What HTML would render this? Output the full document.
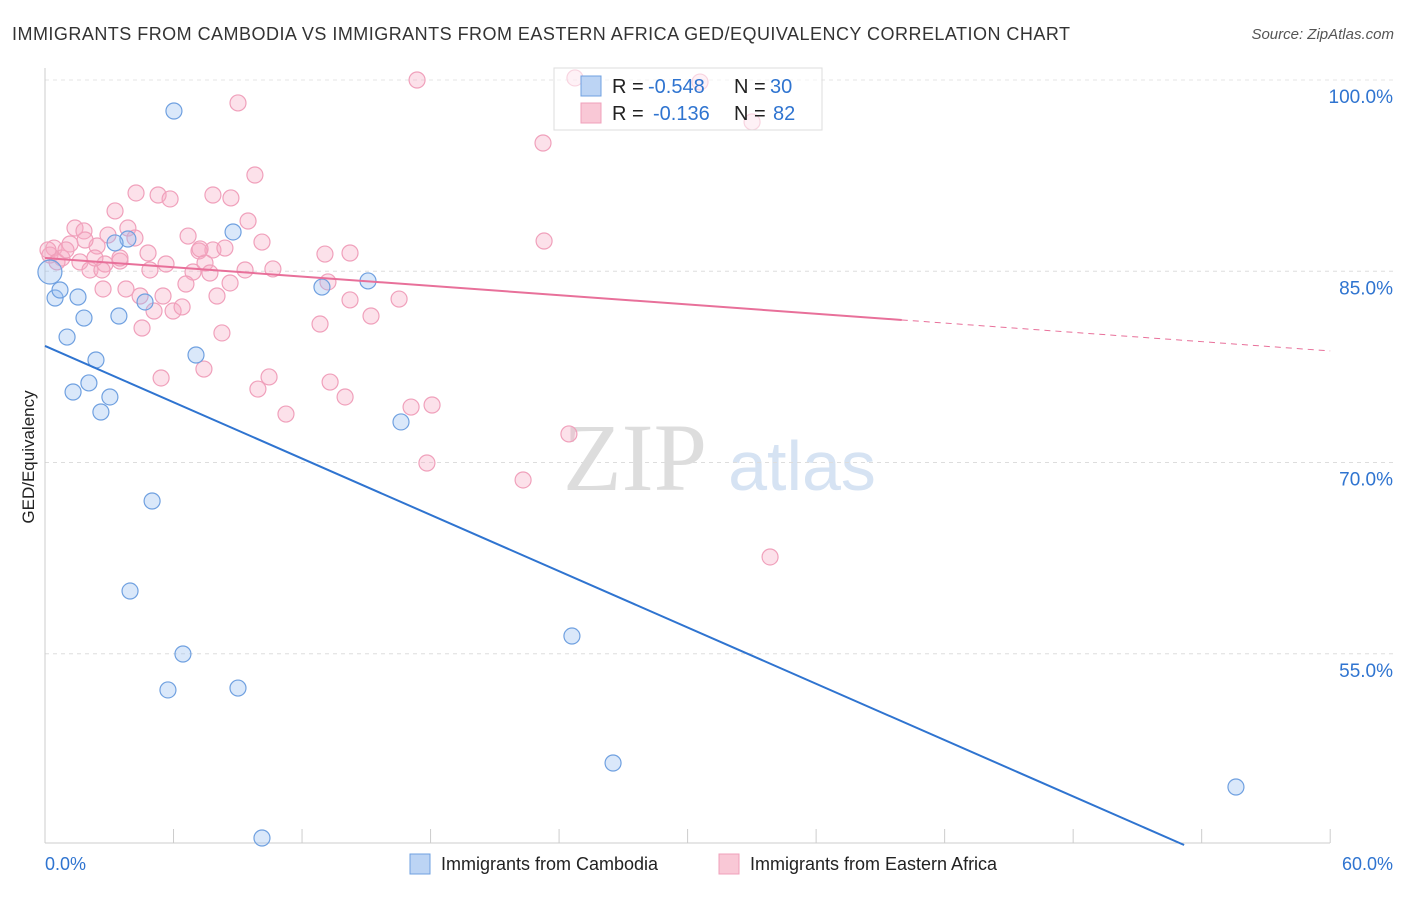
<!DOCTYPE html>
<html><head><meta charset="utf-8"><style>
body{margin:0;background:#fff;font-family:"Liberation Sans",sans-serif}
</style></head><body>
<svg width="1406" height="892" xmlns="http://www.w3.org/2000/svg" id="svg">
<text x="12" y="40" font-size="18" fill="#333" textLength="1058">IMMIGRANTS FROM CAMBODIA VS IMMIGRANTS FROM EASTERN AFRICA GED/EQUIVALENCY CORRELATION CHART</text>
<text x="1394" y="39" font-size="15" fill="#555" font-style="italic" text-anchor="end">Source: ZipAtlas.com</text>
<text x="635" y="490" font-size="96" fill="#ddd" font-family="Liberation Serif" text-anchor="middle">ZIP</text>
<text x="802" y="490" font-size="70" fill="#d6e3f3" text-anchor="middle">atlas</text>
<text transform="translate(34,457) rotate(-90)" font-size="17" fill="#222" text-anchor="middle">GED/Equivalency</text>
<g id="grid"></g><g id="pts"></g><g id="lines"></g>
<rect x="554" y="68" width="268" height="62" fill="rgba(255,255,255,0.55)" stroke="#ddd"/>
<rect x="581" y="76" width="20" height="20" fill="#bcd4f4" stroke="#6fa0e0"/>
<rect x="581" y="103" width="20" height="20" fill="#f9c8d6" stroke="#f0a0bb"/>
<g font-size="20">
<text x="612" y="93" fill="#222">R =</text><text x="648" y="93" fill="#2f74d0">-0.548</text>
<text x="734" y="93" fill="#222">N =</text><text x="770" y="93" fill="#2f74d0">30</text></g>
<g font-size="20">
<text x="612" y="120" fill="#222">R =</text><text x="653" y="120" fill="#2f74d0">-0.136</text>
<text x="734" y="120" fill="#222">N =</text><text x="773" y="120" fill="#2f74d0">82</text></g>
<text x="45" y="870" font-size="18" fill="#2f74d0">0.0%</text>
<text x="1393" y="870" font-size="18" fill="#2f74d0" text-anchor="end">60.0%</text>
<rect x="410" y="854" width="20" height="20" fill="#bcd4f4" stroke="#6fa0e0"/>
<text x="441" y="870" font-size="18" fill="#222">Immigrants from Cambodia</text>
<rect x="719" y="854" width="20" height="20" fill="#f9c8d6" stroke="#f0a0bb"/>
<text x="750" y="870" font-size="18" fill="#222">Immigrants from Eastern Africa</text>
</svg>
<script>
const yTicks=[100,85,70,55];
const yTickLabels=["100.0%","85.0%","70.0%","55.0%"];
const blueX=[6.02,8.78,3.87,3.27,15.08,12.93,0.47,1.54,0.70,1.82,3.45,4.67,1.03,2.38,7.05,1.31,2.05,3.03,2.61,16.62,5.0,3.97,24.6,6.44,5.74,9.01,26.52,55.6,10.13,0.23];
const blueY=[97.57,88.08,87.53,87.22,84.24,83.76,82.9,82.98,83.53,81.33,81.49,82.59,79.84,78.04,78.43,75.53,76.24,75.14,73.96,73.18,66.98,59.92,56.39,54.98,52.16,52.31,46.43,44.55,40.55,84.94];
const pinkPx=[[417,80],[238,103],[575,78],[700,82],[752,122],[543,143],[255,175],[136,193],[158,195],[213,195],[231,198],[170,199],[115,211],[248,221],[75,228],[84,231],[128,228],[108,235],[188,236],[262,242],[54,248],[70,244],[97,246],[544,241],[350,253],[325,254],[148,253],[199,251],[213,250],[225,248],[50,255],[62,258],[80,262],[120,261],[105,264],[166,264],[205,263],[90,270],[102,270],[150,270],[193,272],[210,273],[245,270],[273,269],[230,283],[186,284],[103,289],[126,289],[163,296],[217,296],[140,296],[350,300],[399,299],[154,311],[173,311],[182,307],[371,316],[320,324],[142,328],[222,333],[204,369],[161,378],[269,377],[330,382],[258,389],[345,397],[286,414],[411,407],[432,405],[569,434],[427,463],[523,480],[770,557],[48,250],[57,262],[66,250],[85,240],[120,258],[328,282],[200,249],[135,238],[95,258]];
const pinkX=pinkPx.map(p=>+((p[0]-45)/21.42).toFixed(2));
const pinkY=pinkPx.map(p=>+(100-(p[1]-80)/12.75).toFixed(2));
const blueLine=[79.14,-0.736];
const pinkLine=[86.04,-0.1215];
const X=v=>45+v*21.42, Y=v=>80+(100-v)*12.75;
const NS="http://www.w3.org/2000/svg";
function mk(t,a,p){const e=document.createElementNS(NS,t);for(const k in a)e.setAttribute(k,a[k]);document.getElementById(p).appendChild(e);return e;}
yTicks.forEach((t,i)=>{
 const l=mk('line',{x1:45,x2:1393,y1:Y(t),y2:Y(t),stroke:'#ddd','stroke-dasharray':'4,4'},'grid');
 
 
 const tx=mk('text',{x:1393,y:Y(t)+23,'font-size':19,fill:'#2f74d0','text-anchor':'end'},'grid');
 tx.textContent=yTickLabels[i];
 
 
});
const topGrid=mk('line',{x1:45,x2:1393,y1:80,y2:80,stroke:'#e4e4e4','stroke-dasharray':'4,4'},'grid');


const axX=mk('line',{x1:45,x2:1330,y1:843,y2:843,stroke:'#ccc'},'grid');


const axY=mk('line',{x1:45,x2:45,y1:68,y2:843,stroke:'#ccc'},'grid');


for(let i=0;i<=10;i++){const t=mk('line',{x1:X(i*6),x2:X(i*6),y1:829,y2:843,stroke:'#ccc'},'grid');
 
 }
pinkX.forEach((x,i)=>{const c=mk('circle',{cx:X(x),cy:Y(pinkY[i]),r:8,fill:'rgba(246,170,195,0.35)',stroke:'#f0a0bb','stroke-width':1.2},'pts');
 
 });
blueX.forEach((x,i)=>{const c=mk('circle',{cx:X(x),cy:Y(blueY[i]),r:(i==blueX.length-1?12:8),fill:'rgba(150,190,240,0.35)',stroke:'#6fa0e0','stroke-width':1.2},'pts');
 
 });
const xe=(40-blueLine[0])/blueLine[1];
const bl=mk('line',{x1:X(0),y1:Y(blueLine[0]),x2:X(xe),y2:Y(40),stroke:'#2f74d0','stroke-width':2},'lines');


const pl=mk('line',{x1:X(0),y1:Y(pinkLine[0]),x2:X(40),y2:Y(pinkLine[0]+pinkLine[1]*40),stroke:'#e8709a','stroke-width':2},'lines');


const pd=mk('line',{x1:X(40),y1:Y(pinkLine[0]+pinkLine[1]*40),x2:X(60),y2:Y(pinkLine[0]+pinkLine[1]*60),stroke:'#e8709a','stroke-width':1,'stroke-dasharray':'6,5'},'lines');


</script>
</body></html>
